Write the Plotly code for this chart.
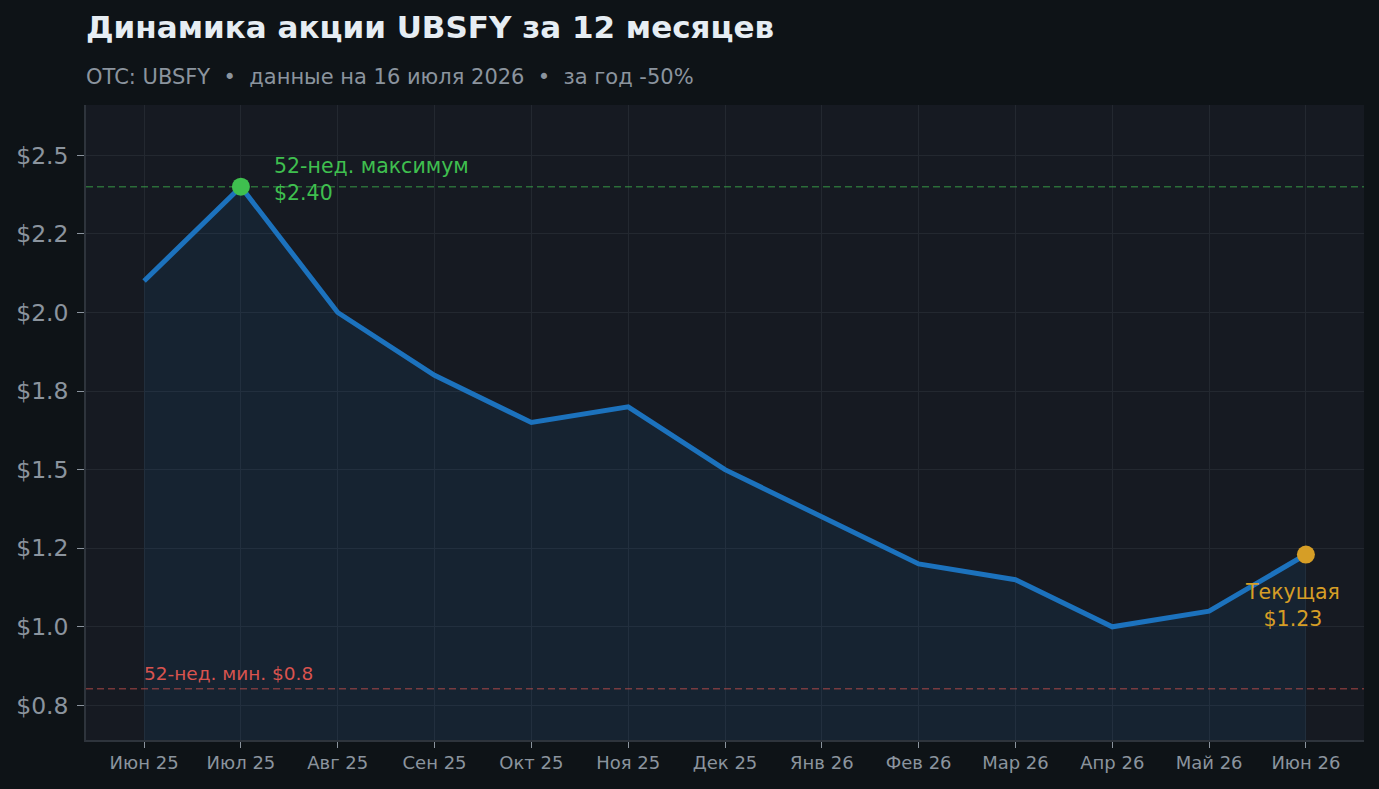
import plotly.graph_objects as go

# données
months = ["Июн 25", "Июл 25", "Авг 25", "Сен 25", "Окт 25", "Ноя 25", "Дек 25",
          "Янв 26", "Фев 26", "Мар 26", "Апр 26", "Май 26", "Июн 26"]
prices = [2.10, 2.40, 2.00, 1.80, 1.65, 1.70, 1.50, 1.35, 1.20, 1.15, 1.00, 1.05, 1.23]
high_52w = 2.40
low_52w = 0.803
y_ticks = [0.75, 1.0, 1.25, 1.5, 1.75, 2.0, 2.25, 2.5]
y_ticktext = ["$0.8", "$1.0", "$1.2", "$1.5", "$1.8", "$2.0", "$2.2", "$2.5"]

BG = "#0e1317"
PLOT_BG = "#161a22"
GRID = "#232830"
AXIS = "#2e343c"
TXT = "#8b949e"
BLUE = "#1c72bd"
GREEN = "#3fbf4f"
ORANGE = "#d69e26"
RED = "#d9534f"
FONT = "DejaVu Sans"

x = list(range(len(months)))

fig = go.Figure()
fig.add_trace(go.Scatter(
    x=x, y=prices, mode="lines",
    line=dict(color=BLUE, width=5),
    fill="tozeroy", fillcolor="rgba(28,114,189,0.10)",
    hoverinfo="skip", showlegend=False,
))
# max / current markers
i_max = prices.index(max(prices))
fig.add_trace(go.Scatter(x=[x[i_max]], y=[prices[i_max]], mode="markers",
                         marker=dict(color=GREEN, size=18), showlegend=False))
fig.add_trace(go.Scatter(x=[x[-1]], y=[prices[-1]], mode="markers",
                         marker=dict(color=ORANGE, size=18), showlegend=False))

fig.add_hline(y=high_52w, line=dict(color="rgba(63,191,79,0.5)", width=1.4, dash="7px,4px"))
fig.add_hline(y=low_52w, line=dict(color="rgba(217,83,79,0.5)", width=1.4, dash="7px,4px"))

fig.add_annotation(x=x[i_max], y=high_52w, text="52-нед. максимум<br>$2.40",
                   xanchor="left", yanchor="middle", align="left", xshift=31, yshift=7,
                   showarrow=False, font=dict(color=GREEN, size=20.5, family=FONT))
fig.add_annotation(x=x[-1], y=prices[-1], text="Текущая<br>$1.23",
                   xanchor="center", yanchor="middle", align="center", xshift=-13, yshift=-51,
                   showarrow=False, font=dict(color=ORANGE, size=20.5, family=FONT))
fig.add_annotation(x=x[0], y=low_52w, text="52-нед. мин. $0.8",
                   xanchor="left", yanchor="middle", align="left", xshift=-2, yshift=15,
                   showarrow=False, font=dict(color=RED, size=18.5, family=FONT))

# titres
fig.add_annotation(xref="paper", yref="paper", x=0, y=1, xanchor="left", yanchor="middle",
                   yshift=78, xshift=-2, showarrow=False,
                   text="<b>Динамика акции UBSFY за 12 месяцев</b>",
                   font=dict(color="#e6edf3", size=31, family=FONT))
fig.add_annotation(xref="paper", yref="paper", x=0, y=1, xanchor="left", yanchor="middle",
                   yshift=28, xshift=-2, showarrow=False,
                   text="OTC: UBSFY  •  данные на 16 июля 2026  •  за год -50%",
                   font=dict(color=TXT, size=21, family=FONT))

fig.update_layout(
    width=1379, height=789,
    paper_bgcolor=BG, plot_bgcolor=PLOT_BG,
    margin=dict(l=86, r=15, t=105, b=49),
    font=dict(family=FONT, color=TXT),
    showlegend=False,
    xaxis=dict(
        range=[-0.6, 12.6], tickvals=x, ticktext=months,
        showgrid=True, gridcolor=GRID, gridwidth=1,
        ticks="outside", ticklen=6, tickcolor=TXT, tickwidth=1.2,
        showline=True, linecolor=AXIS, linewidth=1.5,
        tickfont=dict(size=18, color=TXT), zeroline=False,
    ),
    yaxis=dict(
        range=[0.64, 2.66], tickvals=y_ticks, ticktext=y_ticktext,
        showgrid=True, gridcolor=GRID, gridwidth=1,
        ticks="outside", ticklen=7, tickcolor=TXT, tickwidth=1.2,
        showline=True, linecolor=AXIS, linewidth=1.5,
        tickfont=dict(size=23.5, color=TXT), zeroline=False,
        ticklabelstandoff=4,
    ),
)

# page sans marge blanche autour de la figure
fig.write_html("out.html", config={"displayModeBar": False},
               post_script="document.body.style.margin='0';"
                           "document.body.style.background='#0e1317';")
